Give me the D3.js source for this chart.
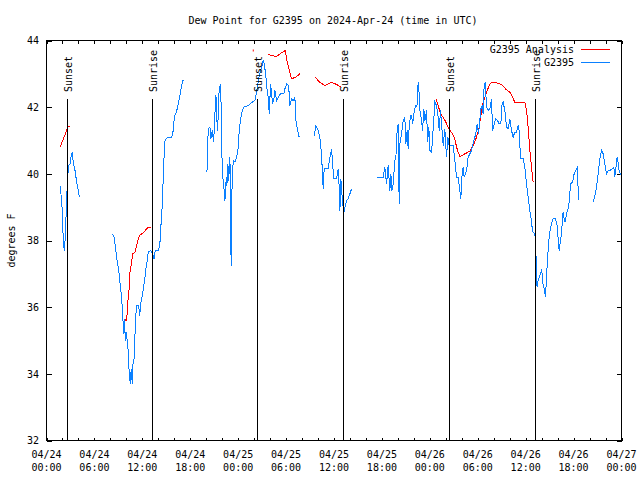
<!DOCTYPE html>
<html><head><meta charset="utf-8">
<script src="https://cdn.jsdelivr.net/npm/d3@7"></script>
<style>
body{margin:0;background:#fff}
svg{display:block}
text{font-family:"DejaVu Sans Mono","Liberation Mono",monospace;font-size:10px;fill:#000}
</style>
</head><body>
<svg id="c" width="640" height="480"></svg>
<script>
// ---------- data ----------
const chartTitle = "Dew Point for G2395 on 2024-Apr-24 (time in UTC)";
const yAxisLabel = "degrees F";
const startUTC = Date.UTC(2024, 3, 24, 0, 0);
const endUTC = Date.UTC(2024, 3, 27, 0, 0);
const yTickValues = [32, 34, 36, 38, 40, 42, 44];
// event times in hours after 2024-04-24 00:00 UTC
const eventHours = [2.53, 13.25, 26.35, 37.15, 50.42, 61.18];
const eventLabels = ["Sunset", "Sunrise", "Sunset", "Sunrise", "Sunset", "Sunrise"];
const seriesNames = ["G2395 Analysis", "G2395"];

// observed dew point (G2395): [hours after start, °F], one array per continuous run
const obsRun1 = [[1.69,39.65],[1.81,39.4],[1.98,38.9],[2.03,38.5],[2.10,38.0],[2.23,37.7],[2.35,38.1],[2.44,38.7],[2.53,39.3],[2.65,39.9],[2.78,40.25],[2.94,40.3],[3.07,40.5],[3.23,40.64],[3.35,40.35],[3.57,40.1],[3.78,39.75],[3.94,39.55],[4.11,39.3]];
const obsRun2 = [[8.24,38.2],[8.45,38.1],[8.57,37.9],[8.70,37.65],[8.86,37.35],[8.99,37.2],[9.11,36.95],[9.29,36.55],[9.41,36.25],[9.54,35.8],[9.61,35.45],[9.70,35.2],[9.79,35.65],[9.86,35.0],[9.95,35.25],[10.11,35.0],[10.24,34.65],[10.36,34.0],[10.49,33.7],[10.61,34.15],[10.74,33.7],[10.83,34.3],[10.95,34.4],[11.04,34.95],[11.17,35.7],[11.29,36.05],[11.54,36.05],[11.67,35.75],[11.79,36.1],[11.95,36.3],[12.12,36.55],[12.29,36.8],[12.42,37.1],[12.58,37.35],[12.74,37.65],[13.04,37.7],[13.29,37.6],[13.46,37.45],[13.62,37.7],[14.04,37.7],[14.21,37.95],[14.37,38.6],[14.54,39.2],[14.62,40.0],[14.71,40.45],[14.80,40.95],[14.96,41.05],[15.25,41.1],[15.67,41.1],[15.87,41.3],[16.00,41.7],[16.17,41.8],[16.37,41.95],[16.59,42.2],[16.71,42.35],[16.92,42.65],[17.05,42.8],[17.25,42.8]];
const obsRun3 = [[20.09,40.05],[20.25,41.35],[20.47,41.4],[20.59,41.05],[20.75,41.3],[20.93,40.95],[21.13,42.0],[21.22,42.35],[21.30,41.7],[21.43,41.3],[21.55,42.1],[21.63,42.6],[21.75,42.65],[21.88,42.0],[21.97,40.5],[22.13,39.7],[22.26,39.5],[22.34,39.2],[22.51,39.9],[22.59,39.65],[22.72,40.3],[22.81,39.8],[22.97,40.5],[23.06,38.1],[23.13,37.25],[23.22,39.5],[23.38,40.4],[23.59,40.35],[23.81,40.5],[24.01,40.8],[24.13,41.3],[24.31,41.65],[24.51,41.9],[24.72,42.0],[25.26,42.05],[25.76,42.15],[26.10,42.2],[26.22,42.35],[26.39,42.6],[26.64,42.95],[26.94,43.2],[27.14,43.4],[27.26,43.3],[27.44,43.0],[27.56,42.65],[27.76,42.3],[27.89,41.8],[28.06,42.7],[28.19,42.4],[28.31,42.1],[28.48,42.25],[28.60,42.5],[28.81,42.2],[29.14,42.35],[29.35,42.4],[29.73,42.4],[29.85,42.55],[30.07,42.7],[30.32,42.65],[30.48,42.05],[30.69,42.25],[30.89,42.2],[31.10,42.3],[31.23,41.6],[31.44,41.3],[31.64,41.1]];
const obsRun4 = [[33.52,41.15],[33.73,41.45],[34.02,41.3],[34.23,41.1],[34.45,40.55],[34.57,39.9],[34.65,39.55],[34.77,40.15],[35.27,40.15],[35.49,40.5],[35.70,40.75],[35.82,40.3],[35.99,39.85],[36.32,39.85],[36.53,40.15],[36.65,39.6],[36.74,38.9],[36.86,39.85],[37.08,39.1],[37.24,38.85],[37.58,39.2],[37.78,39.25],[37.99,39.4],[38.20,39.55]];
const obsRun5 = [[41.41,39.9],[42.16,39.9],[42.37,40.2],[42.58,39.7],[42.78,40.25],[43.00,39.5],[43.12,40.0],[43.25,39.5],[43.41,39.7],[43.62,40.4],[43.75,40.5],[43.91,41.3],[44.03,41.5],[44.16,39.1],[44.25,40.9],[44.46,41.2],[44.66,41.6],[44.87,41.7],[45.00,40.9],[45.16,41.3],[45.29,40.75],[45.41,41.4],[45.59,41.75],[45.71,41.75],[45.84,41.5],[46.00,41.8],[46.21,42.05],[46.38,42.0],[46.54,42.75],[46.67,42.4],[46.75,41.9],[46.96,41.6],[47.09,41.3],[47.25,41.95],[47.38,41.6],[47.59,41.9],[47.72,40.95],[47.88,41.4],[48.00,40.7],[48.22,40.65],[48.42,41.35],[48.63,42.15],[48.84,42.05],[49.04,41.7],[49.17,41.3],[49.34,41.9],[49.47,41.5],[49.67,40.85],[49.88,41.35],[50.09,40.5],[50.26,41.1],[50.42,40.85],[50.72,40.85],[50.92,40.85],[51.13,40.4],[51.35,39.9],[51.55,39.9],[51.76,39.5],[51.88,39.25],[52.01,39.9],[52.17,40.2],[52.30,39.9],[52.60,40.1],[52.80,40.5],[53.01,40.6],[53.22,40.7],[53.51,41.0],[53.76,41.2],[53.93,41.5],[54.10,41.2],[54.39,41.95],[54.55,42.05],[54.68,41.8],[54.80,42.65],[54.93,42.75],[55.10,42.0],[55.30,41.9],[55.51,41.95],[55.73,42.25],[55.85,41.3],[56.02,41.45],[56.23,41.65],[56.48,41.6],[56.68,41.5],[56.89,41.5],[57.05,42.1],[57.18,42.15],[57.39,41.9],[57.60,41.4],[57.80,41.35],[58.02,41.65],[58.23,41.3],[58.43,41.1],[58.64,41.25],[58.86,41.25],[59.06,41.45],[59.18,41.3],[59.36,40.45],[59.68,40.45],[59.90,40.2],[60.11,39.7],[60.31,39.3],[60.52,38.9],[60.65,38.7],[60.77,38.45],[60.93,38.25],[61.15,38.2],[61.27,37.75],[61.36,37.0],[61.43,36.6],[61.56,36.8],[61.77,36.95],[61.90,37.05],[62.02,37.15],[62.11,36.75],[62.31,36.55],[62.49,36.3],[62.61,36.95],[62.74,37.4],[62.86,37.9],[63.02,38.25],[63.24,38.5],[63.44,38.65],[63.74,38.65],[63.94,38.45],[64.11,37.9],[64.19,37.7],[64.31,37.9],[64.49,38.2],[64.61,38.65],[64.69,38.85],[64.82,38.65],[64.94,38.55],[65.11,38.8],[65.31,38.95],[65.44,39.15],[65.62,39.7],[65.87,39.75],[66.07,40.0],[66.28,40.1],[66.49,40.22],[66.57,39.5],[66.69,39.2]];
const obsRun6 = [[68.45,39.15],[68.66,39.35],[68.87,39.6],[69.07,40.0],[69.28,40.45],[69.50,40.7],[69.70,40.6],[69.91,40.3],[70.12,40.0],[70.32,40.1],[70.54,40.1],[70.82,40.15],[71.04,40.2],[71.16,39.9],[71.29,40.15],[71.45,40.5],[71.58,40.35],[71.70,40.1],[71.87,40.0],[72.00,40.05]];

// analysis dew point (G2395 Analysis)
const anaRun1 = [[1.69,40.8],[2.53,41.3],[2.65,41.4],[2.94,41.42]];
const anaRun2 = [[9.83,35.62],[10.04,35.6],[10.16,36.1],[10.33,36.5],[10.45,37.05],[10.66,37.35],[10.79,37.6],[11.08,37.65],[11.29,37.85],[11.62,38.15],[11.92,38.2],[12.20,38.25],[12.54,38.35],[12.79,38.4],[13.04,38.4]];
const anaRun3 = [[25.89,43.7]];
const anaRun4 = [[27.76,43.58],[28.23,43.55],[28.81,43.52],[29.23,43.6],[29.89,43.7],[30.14,43.35],[30.69,42.85],[31.19,42.9],[31.73,43.0]];
const anaRun5 = [[33.61,42.9],[34.23,42.75],[34.86,42.65],[35.70,42.75],[36.32,42.68],[36.95,42.6]];
const anaRun6 = [[48.76,42.25],[49.04,42.05],[49.34,41.8],[49.67,41.7],[50.01,41.55],[50.29,41.4],[50.51,41.3],[50.85,41.2],[51.13,41.05],[51.35,40.8],[51.55,40.65],[51.76,40.52],[52.39,40.6],[53.01,40.68],[53.43,40.85],[53.85,41.1],[54.18,41.4],[54.39,41.75],[54.68,42.15],[55.10,42.45],[55.43,42.65],[55.73,42.75],[56.14,42.75],[56.98,42.68],[57.60,42.52],[58.02,42.45],[58.35,42.3],[58.64,42.15],[59.27,42.15],[59.90,42.15],[60.11,41.9],[60.31,41.4],[60.52,40.7],[60.73,40.2],[60.93,39.75]];

// ---------- drawing ----------
const obsRuns = [obsRun1, obsRun2, obsRun3, obsRun4, obsRun5, obsRun6];
const anaRuns = [anaRun1, anaRun2, anaRun3, anaRun4, anaRun5, anaRun6];
const COLOR_ANA = "#ff0000", COLOR_OBS = "#0a80ff";

const L = 46.5, R = 621.5, T = 40.5, B = 440.5;
const toDate = h => new Date(startUTC + h * 3600000);
const x = d3.scaleUtc().domain([new Date(startUTC), new Date(endUTC)]).range([L, R]);
const y = d3.scaleLinear().domain([32, 44]).range([B, T]);
const svg = d3.select("#c");

svg.append("defs").append("clipPath").attr("id", "clip")
  .append("rect").attr("x", L).attr("y", T - 1).attr("width", R - L).attr("height", B - T + 1);

// ticks (all inward, mirrored)
const xTickVals = d3.utcHour.every(2).range(new Date(startUTC), new Date(endUTC + 1));
const axisStyle = g => { g.select(".domain").remove(); g.selectAll("line").attr("stroke", "#000").attr("shape-rendering", "crispEdges"); };
svg.append("g").attr("transform", `translate(0,${B})`)
  .call(d3.axisBottom(x).tickValues(xTickVals).tickSizeInner(-3).tickSizeOuter(0).tickFormat(""))
  .call(axisStyle).selectAll("text").remove();
svg.append("g").attr("transform", `translate(0,${T})`)
  .call(d3.axisTop(x).tickValues(xTickVals).tickSizeInner(-3).tickSizeOuter(0).tickFormat(""))
  .call(axisStyle).selectAll("text").remove();
svg.append("g").attr("transform", `translate(${L},0)`)
  .call(d3.axisLeft(y).tickValues(yTickValues).tickSizeInner(-5).tickSizeOuter(0).tickPadding(7.5).tickFormat(d3.format("d")))
  .call(axisStyle);
svg.append("g").attr("transform", `translate(${R},0)`)
  .call(d3.axisRight(y).tickValues(yTickValues).tickSizeInner(-5).tickSizeOuter(0).tickFormat(""))
  .call(axisStyle).selectAll("text").remove();

// x labels (two lines)
const labelVals = d3.utcHour.every(6).range(new Date(startUTC), new Date(endUTC + 1));
const fmtDay = d3.utcFormat("%m/%d"), fmtTime = d3.utcFormat("%H:%M");
const xl = svg.append("g").selectAll("text").data(labelVals).join("text")
  .attr("text-anchor", "middle");
xl.append("tspan").attr("x", d => x(d)).attr("y", 458).text(d => fmtDay(d));
xl.append("tspan").attr("x", d => x(d)).attr("y", 471).text(d => fmtTime(d));

// data lines
const line = d3.line().x(d => x(toDate(d[0]))).y(d => y(d[1]));
const dataG = svg.append("g").attr("clip-path", "url(#clip)");
function drawRuns(runs, color) {
  runs.forEach(run => {
    if (run.length > 1) {
      dataG.append("path").attr("d", line(run)).attr("fill", "none")
        .attr("stroke", color).attr("stroke-width", 1).attr("shape-rendering", "crispEdges");
    } else {
      dataG.append("rect").attr("x", x(toDate(run[0][0])) - 0.5).attr("y", y(run[0][1]) - 1)
        .attr("width", 1).attr("height", 2).attr("fill", color);
    }
  });
}
drawRuns(anaRuns, COLOR_ANA);
drawRuns(obsRuns, COLOR_OBS);

// event lines & labels
const ev = svg.append("g");
eventHours.forEach((h, i) => {
  const ex = Math.round(x(toDate(h))) + 0.5;
  ev.append("line").attr("x1", ex).attr("x2", ex).attr("y1", 99).attr("y2", B)
    .attr("stroke", "#000").attr("shape-rendering", "crispEdges");
  ev.append("text").attr("transform", `translate(${ex + 4.5},92) rotate(-90)`)
    .attr("text-anchor", "start").text(eventLabels[i]);
});

// frame
svg.append("rect").attr("x", L).attr("y", T).attr("width", R - L).attr("height", B - T)
  .attr("fill", "none").attr("stroke", "#000").attr("shape-rendering", "crispEdges");

// title & axis label
svg.append("text").attr("x", 333).attr("y", 23.5).attr("text-anchor", "middle").text(chartTitle);
svg.append("text").attr("transform", `translate(15,${(T + B) / 2}) rotate(-90)`)
  .attr("text-anchor", "middle").text(yAxisLabel);

// legend
const legColors = [COLOR_ANA, COLOR_OBS];
seriesNames.forEach((name, i) => {
  const ly = 49.5 + i * 13;
  svg.append("text").attr("x", 574).attr("y", ly + 3.5).attr("text-anchor", "end").text(name);
  svg.append("line").attr("x1", 581).attr("x2", 610).attr("y1", ly).attr("y2", ly)
    .attr("stroke", legColors[i]).attr("stroke-width", 1).attr("shape-rendering", "crispEdges");
});
</script>
</body></html>
